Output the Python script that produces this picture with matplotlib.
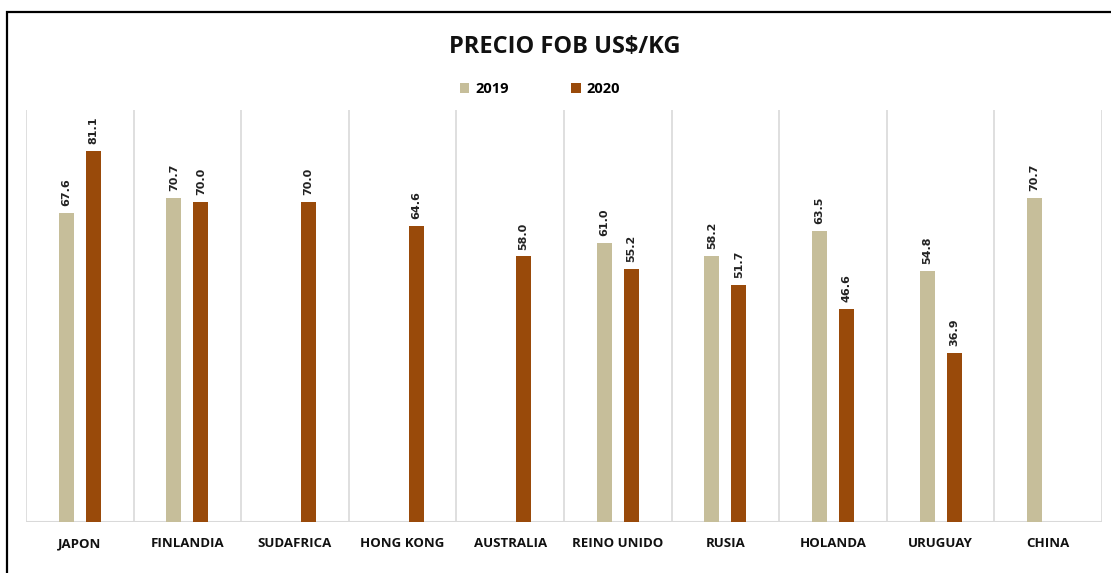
import numpy as np
import matplotlib.pyplot as plt
from matplotlib.patches import Rectangle

# --- Data ---
paises = ['JAPON', 'FINLANDIA', 'SUDAFRICA', 'HONG KONG', 'AUSTRALIA',
          'REINO UNIDO', 'RUSIA', 'HOLANDA', 'URUGUAY', 'CHINA']
precio_2019 = [67.6, 70.7, np.nan, np.nan, np.nan, 61.0, 58.2, 63.5, 54.8, 70.7]
precio_2020 = [81.1, 70.0, 70.0, 64.6, 58.0, 55.2, 51.7, 46.6, 36.9, np.nan]

color_2019 = '#C6BE9A'
color_2020 = '#994A0A'

fig = plt.figure(figsize=(11.11, 5.73), dpi=100)
ax = fig.add_axes([26 / 1111, 51 / 573, 1076 / 1111, 412 / 573])

x = np.arange(len(paises))
w = 0.14
off = 0.125

b1 = ax.bar(x - off, precio_2019, w, color=color_2019, label='2019', zorder=3)
b2 = ax.bar(x + off, precio_2020, w, color=color_2020, label='2020', zorder=3)

# value labels
for xs, vals in [(x - off, precio_2019), (x + off, precio_2020)]:
    for xi, v in zip(xs, vals):
        if np.isnan(v):
            continue
        ax.annotate(f'{v:.1f}', (xi, v), xytext=(0, 5), textcoords='offset points',
                    rotation=90, ha='center', va='bottom', fontsize=8,
                    fontweight='bold', color='#222222')

ax.set_xlim(-0.5, len(paises) - 0.5)
ax.set_ylim(0, 90)

# separators between categories
for b in np.arange(-0.5, len(paises), 1.0):
    ax.axvline(b, color='#D9D9D9', lw=1.2, zorder=1)
ax.axhline(0, color='#D9D9D9', lw=1.5, zorder=2)

for s in ax.spines.values():
    s.set_visible(False)
ax.set_yticks([])
ax.set_xticks(x)
ax.set_xticklabels(paises, fontsize=9.5, fontweight='bold', family='Open Sans',
                   color='#111111')
ax.tick_params(axis='x', length=0, pad=11)

fig.text(565 / 1111, 1 - 47 / 573, 'PRECIO FOB US$/KG', ha='center', va='center',
         fontsize=17, fontweight='bold', family='Open Sans', color='#111111')

leg = fig.legend(handles=[b1, b2], labels=['2019', '2020'], loc='center',
                 bbox_to_anchor=(540 / 1111, 1 - 89 / 573), ncol=2, frameon=False,
                 prop={'family': 'Open Sans', 'weight': 'bold', 'size': 10.5},
                 handlelength=0.65, handleheight=0.65, handletextpad=0.4,
                 columnspacing=4.3)

# outer black frame (only top and left edges visible)
fig.patches.append(Rectangle((6.5 / 1111, -0.2), 1.5, 1.2 - 11.5 / 573,
                             transform=fig.transFigure, fill=False,
                             edgecolor='black', lw=1.6))

fig.savefig('out.png', dpi=100)
